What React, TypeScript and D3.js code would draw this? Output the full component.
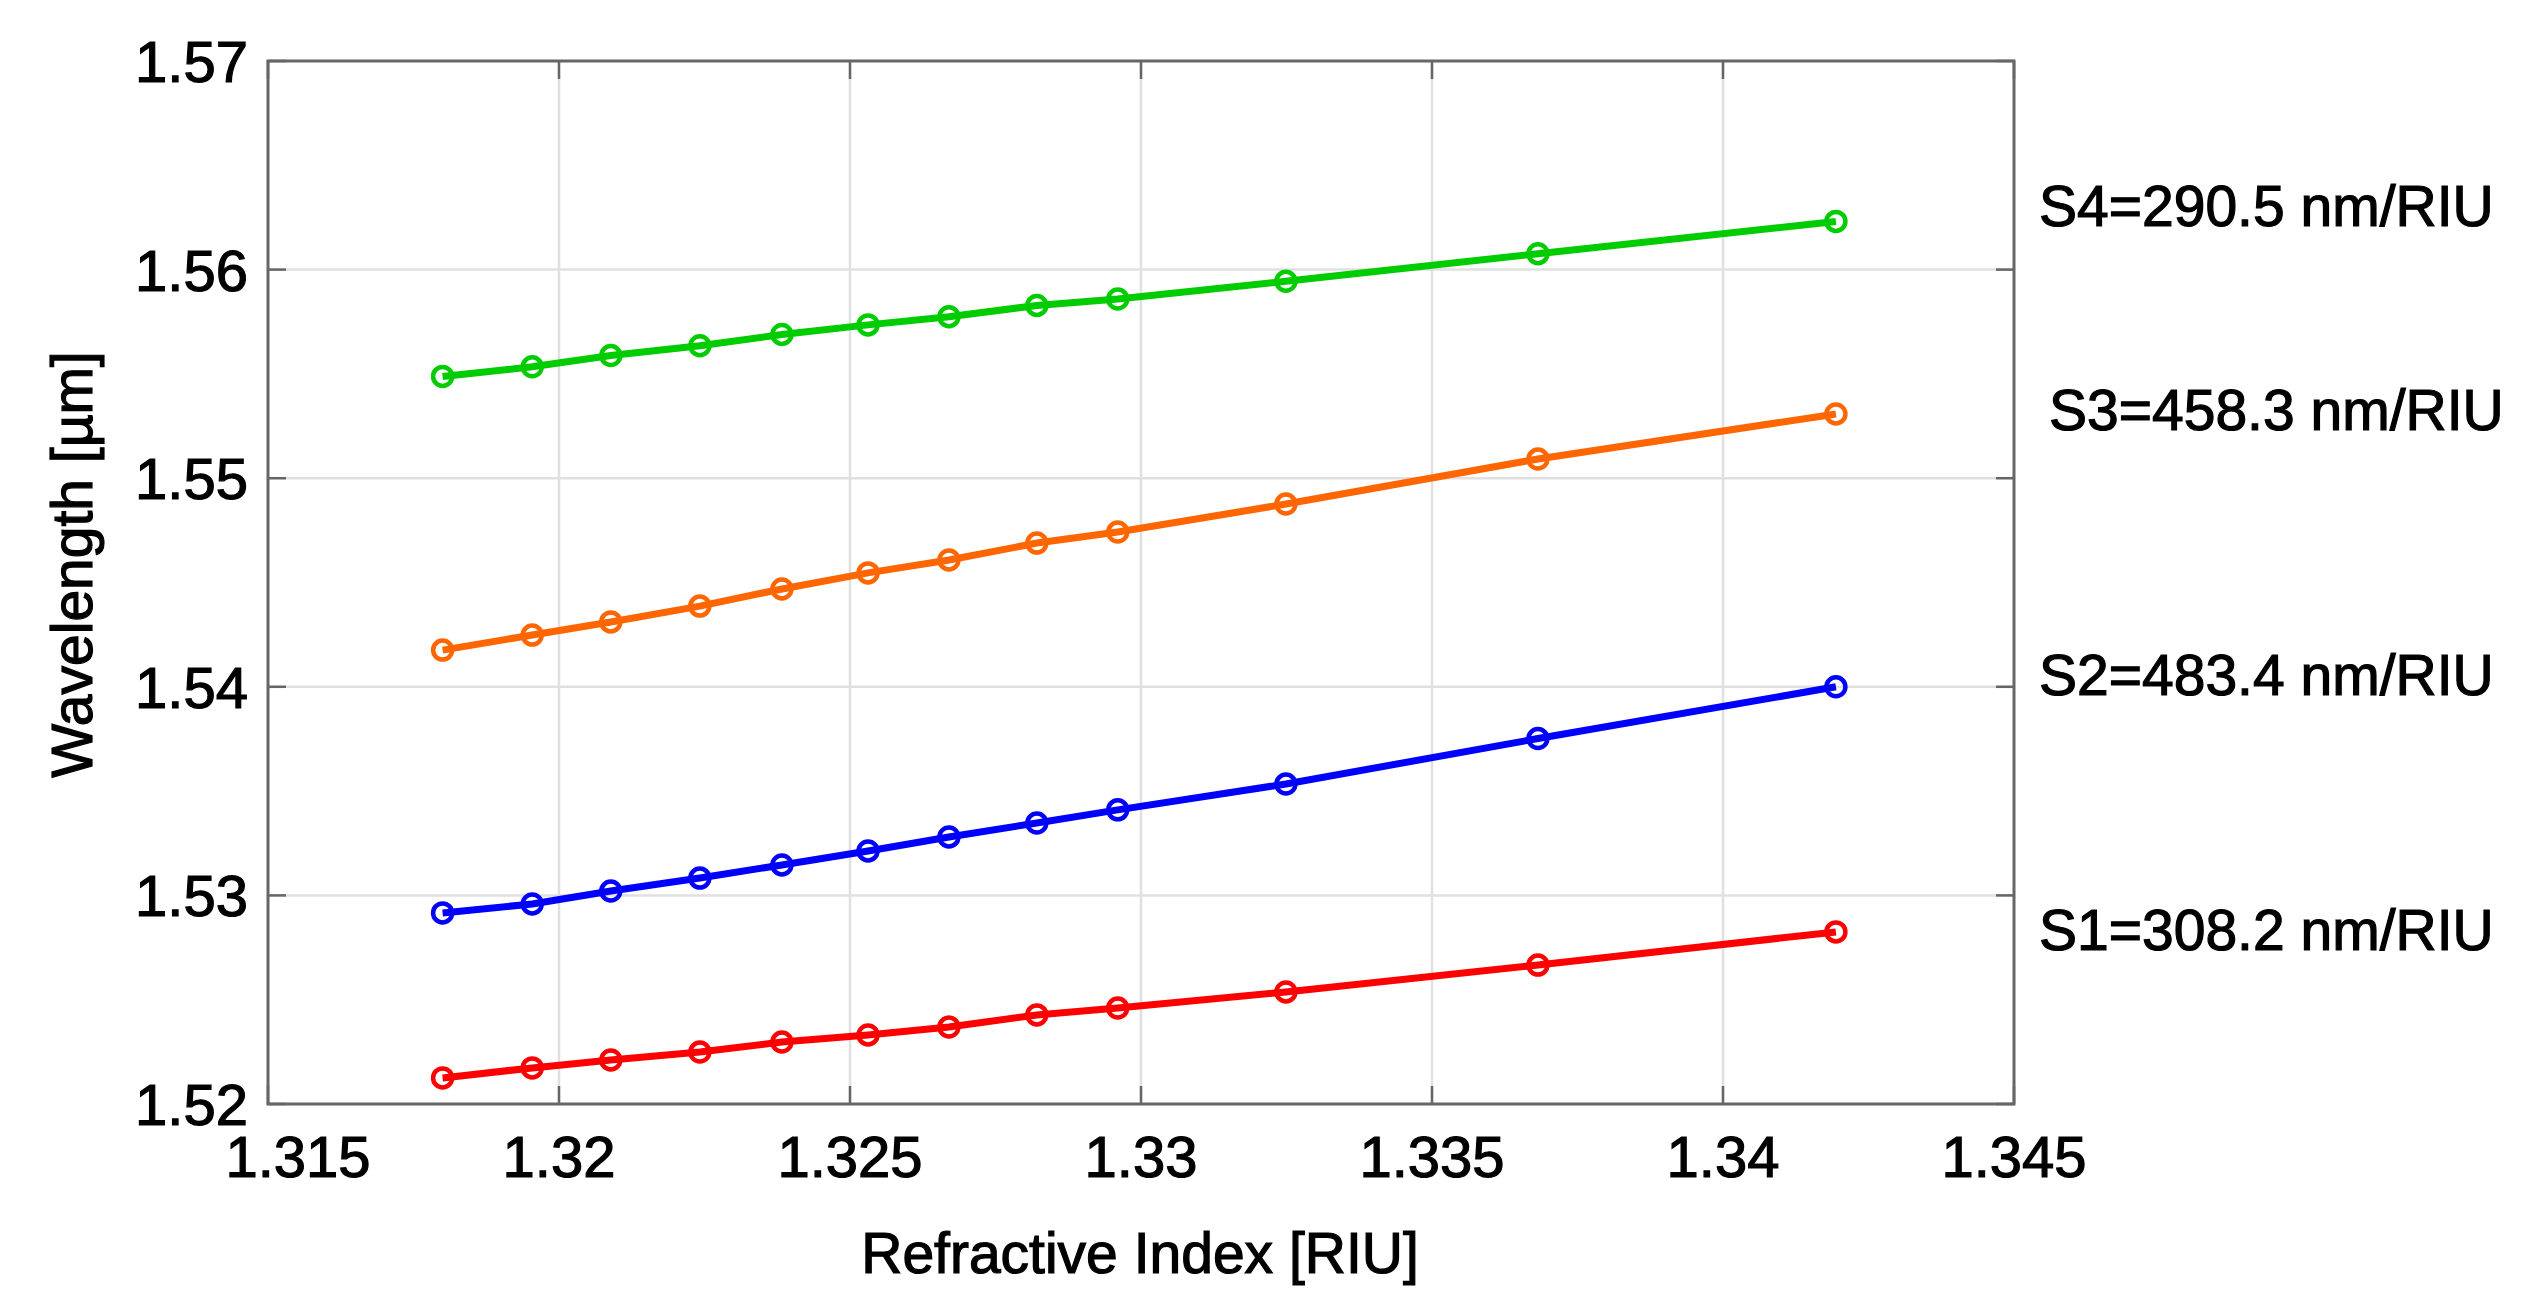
import React from "react";
import * as d3 from "d3";

const refractiveIndex = [1.318, 1.31954, 1.32089, 1.32242, 1.32383, 1.32531, 1.3267, 1.32821, 1.3296, 1.33249, 1.33682, 1.34194];
const s1Values = [1.52125, 1.52173, 1.52211, 1.52249, 1.52297, 1.52331, 1.52369, 1.52427, 1.5246, 1.52537, 1.52666, 1.52825];
const s2Values = [1.52916, 1.52959, 1.53021, 1.53083, 1.53146, 1.53213, 1.5328, 1.53347, 1.5341, 1.53534, 1.53752, 1.54];
const s3Values = [1.54176, 1.54248, 1.54311, 1.54387, 1.54469, 1.54546, 1.54608, 1.54689, 1.54742, 1.54876, 1.55092, 1.55308];
const s4Values = [1.55488, 1.55534, 1.55588, 1.55635, 1.55689, 1.55735, 1.55774, 1.55828, 1.55859, 1.55944, 1.56076, 1.56231];

const seriesNames = ["S1", "S2", "S3", "S4"];
const seriesLabels = ["S1=308.2 nm/RIU", "S2=483.4 nm/RIU", "S3=458.3 nm/RIU", "S4=290.5 nm/RIU"];
const seriesLabelY = [1.5284, 1.5406, 1.5533, 1.5631];
const seriesColors = ["#ff0000", "#0000ff", "#ff6600", "#00cc00"];

const xTicks = [1.315, 1.32, 1.325, 1.33, 1.335, 1.34, 1.345];
const yTicks = [1.52, 1.53, 1.54, 1.55, 1.56, 1.57];
const xDomain = [1.315, 1.345];
const yDomain = [1.52, 1.57];

const W = 2534;
const H = 1312;
const M = { left: 268, right: 2014, top: 61, bottom: 1104 };
const FONT = "'Liberation Sans', Arial, sans-serif";

export default function App() {
  const x = d3.scaleLinear().domain(xDomain).range([M.left, M.right]);
  const y = d3.scaleLinear().domain(yDomain).range([M.bottom, M.top]);
  const allSeries = [s1Values, s2Values, s3Values, s4Values];
  const line = d3
    .line<[number, number]>()
    .x((d) => x(d[0]))
    .y((d) => y(d[1]));
  const tickLen = 18;
  const axisColor = "#666666";
  const gridColor = "#e0e0e0";
  const textStroke = { stroke: "#000", strokeWidth: 1.2 };

  return (
    <svg
      width={W}
      height={H}
      style={{ position: "absolute", left: 0, top: 0, display: "block", background: "#fff" }}
      fontFamily={FONT}
    >
      <rect x={0} y={0} width={W} height={H} fill="#fff" />
      {xTicks.slice(1, -1).map((t) => (
        <line key={"gx" + t} x1={x(t)} x2={x(t)} y1={M.top} y2={M.bottom} stroke={gridColor} strokeWidth={2.5} />
      ))}
      {yTicks.slice(1, -1).map((t) => (
        <line key={"gy" + t} x1={M.left} x2={M.right} y1={y(t)} y2={y(t)} stroke={gridColor} strokeWidth={2.5} />
      ))}
      {xTicks.map((t) => (
        <g key={"tx" + t}>
          <line x1={x(t)} x2={x(t)} y1={M.bottom} y2={M.bottom - tickLen} stroke={axisColor} strokeWidth={2.5} />
          <line x1={x(t)} x2={x(t)} y1={M.top} y2={M.top + tickLen} stroke={axisColor} strokeWidth={2.5} />
        </g>
      ))}
      {yTicks.map((t) => (
        <g key={"ty" + t}>
          <line x1={M.left} x2={M.left + tickLen} y1={y(t)} y2={y(t)} stroke={axisColor} strokeWidth={2.5} />
          <line x1={M.right} x2={M.right - tickLen} y1={y(t)} y2={y(t)} stroke={axisColor} strokeWidth={2.5} />
        </g>
      ))}
      <rect
        x={M.left}
        y={M.top}
        width={M.right - M.left}
        height={M.bottom - M.top}
        fill="none"
        stroke={axisColor}
        strokeWidth={3}
      />
      {allSeries.map((vals, i) => {
        const pts: [number, number][] = refractiveIndex.map((r, j) => [r, vals[j]]);
        return (
          <g key={seriesNames[i]}>
            <path d={line(pts) || ""} fill="none" stroke={seriesColors[i]} strokeWidth={7} />
            {pts.map((p, j) => (
              <circle key={j} cx={x(p[0])} cy={y(p[1])} r={9.5} fill="none" stroke={seriesColors[i]} strokeWidth={4.5} />
            ))}
          </g>
        );
      })}
      {xTicks.map((t, i) => (
        <text
          key={"lx" + t}
          x={x(t) + (i === 0 ? 30 : 0)}
          y={1177}
          textAnchor="middle"
          fontSize={58}
          fill="#000"
          {...textStroke}
        >
          {String(t)}
        </text>
      ))}
      {yTicks.map((t) => (
        <text key={"ly" + t} x={248} y={y(t) + 21} textAnchor="end" fontSize={58} fill="#000" {...textStroke}>
          {t.toFixed(2)}
        </text>
      ))}
      <text x={1140} y={1273} textAnchor="middle" fontSize={57} fill="#000" {...textStroke}>
        Refractive Index [RIU]
      </text>
      <text
        transform={`translate(92, ${(M.top + M.bottom) / 2 - 18}) rotate(-90)`}
        textAnchor="middle"
        fontSize={57}
        fill="#000"
        {...textStroke}
      >
        Wavelength [µm]
      </text>
      {seriesLabels.map((s, i) => (
        <text
          key={s}
          x={i === 2 ? 2049 : 2039}
          y={y(seriesLabelY[i]) + 21}
          fontSize={57}
          fill="#000"
          {...textStroke}
        >
          {s}
        </text>
      ))}
    </svg>
  );
}
